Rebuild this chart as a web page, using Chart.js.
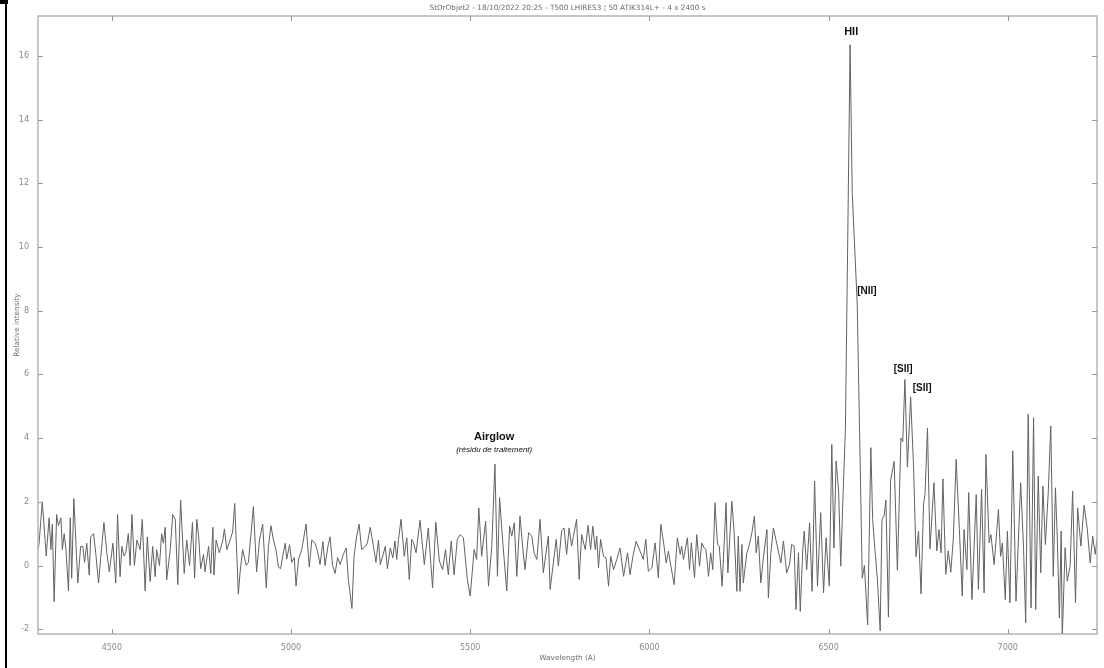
<!DOCTYPE html>
<html>
<head>
<meta charset="utf-8">
<script src="https://cdn.jsdelivr.net/npm/chart.js@4.4.1/dist/chart.umd.min.js"></script>
<style>
  html, body { margin: 0; padding: 0; background: #fff; }
  #wrap { position: relative; width: 1104px; height: 668px; }
  #edge { position: absolute; left: 5px; top: 0; width: 2px; height: 668px; background: #000; }
  #corner { position: absolute; left: 0; top: 0; width: 8px; height: 4px; background: #000; }
</style>
</head>
<body>
<div id="wrap">
  <canvas id="spectrum"></canvas>
  <div id="edge"></div>
  <div id="corner"></div>
</div>
<script>
const chartTitle = 'StDrObjet2 - 18/10/2022 20:25 - T500 LHIRES3 \u00A6 50 ATIK314L+ - 4 x 2400 s';
const xTitle = 'Wavelength (A)';
const yTitle = 'Relative intensity';

const xTickValues = [4500, 5000, 5500, 6000, 6500, 7000];
const yTickValues = [-2, 0, 2, 4, 6, 8, 10, 12, 14, 16];

// longueur d'onde (A)
const wavelengths = [
  4294, 4297, 4306, 4317, 4325, 4330, 4334, 4339, 4346, 4351, 4358, 4362, 4367, 4372, 4379, 4384, 4388, 4394,
  4405, 4413, 4419, 4424, 4430, 4437, 4441, 4449, 4455, 4463, 4469, 4478, 4486, 4493, 4503, 4511, 4516, 4523,
  4528, 4534, 4539, 4546, 4551, 4556, 4563, 4570, 4579, 4585, 4593, 4599, 4607, 4614, 4621, 4625, 4633, 4639,
  4644, 4649, 4653, 4663, 4670, 4677, 4684, 4692, 4702, 4709, 4717, 4725, 4731, 4737, 4742, 4748, 4756, 4760,
  4770, 4776, 4782, 4785, 4791, 4800, 4810, 4814, 4821, 4830, 4837, 4843, 4853, 4858, 4865, 4875, 4881, 4888,
  4895, 4904, 4912, 4921, 4931, 4937, 4944, 4951, 4958, 4965, 4971, 4977, 4984, 4988, 4996, 5002, 5009, 5014,
  5021, 5030, 5042, 5051, 5058, 5067, 5074, 5081, 5089, 5095, 5103, 5109, 5116, 5123, 5130, 5137, 5146, 5154,
  5160, 5170, 5176, 5183, 5190, 5197, 5207, 5213, 5221, 5230, 5237, 5244, 5249, 5256, 5263, 5269, 5277,
  5284, 5290, 5295, 5300, 5307, 5316, 5323, 5330, 5337, 5342, 5349, 5360, 5372, 5383, 5395, 5404, 5414, 5423,
  5431, 5439, 5447, 5455, 5464, 5472, 5481, 5492, 5500, 5511, 5518, 5524, 5532, 5543, 5551, 5560, 5569, 5576,
  5582, 5591, 5602, 5610, 5616, 5623, 5630, 5639, 5647, 5653, 5663, 5672, 5678, 5686, 5695, 5704, 5711, 5718,
  5723, 5732, 5740, 5746, 5755, 5762, 5769, 5776, 5783, 5788, 5797, 5804, 5811, 5821, 5829, 5836, 5842, 5849,
  5853, 5858, 5864, 5872, 5879, 5886, 5892, 5900, 5909, 5918, 5928, 5939, 5946, 5954, 5963, 5974, 5983, 5990,
  5997, 6007, 6016, 6025,
  6032, 6039, 6047, 6053, 6060, 6069, 6078, 6086, 6090, 6095, 6106, 6112, 6117, 6126, 6132, 6140, 6146, 6153,
  6158, 6165, 6171, 6177, 6183, 6190, 6195, 6203, 6214, 6219, 6230, 6236, 6244, 6248, 6253, 6258, 6262, 6272,
  6278, 6286, 6293, 6298, 6304, 6311, 6318, 6328, 6332, 6339, 6346, 6355, 6367, 6374, 6383, 6391, 6397, 6404,
  6409, 6416, 6421, 6428, 6432, 6439, 6447, 6454, 6461, 6469, 6478, 6486, 6493, 6502, 6509, 6515, 6521, 6528,
  6534, 6540, 6547, 6553, 6560, 6566, 6580, 6594,
  6600, 6609, 6618, 6623, 6630, 6636, 6644, 6649, 6655, 6660, 6667, 6673, 6683, 6692, 6702, 6707, 6713, 6720,
  6729, 6737, 6744, 6751, 6758, 6765, 6769, 6776, 6783, 6794, 6802, 6808, 6814, 6819, 6827, 6834, 6841, 6848,
  6856, 6865,
  6873, 6878, 6886, 6891, 6900, 6912, 6918, 6927, 6934, 6939, 6948, 6953, 6962, 6974, 6980, 6985, 6993, 6999,
  7006, 7014, 7023, 7036, 7044, 7050, 7057, 7065, 7072, 7078, 7085, 7092, 7098, 7105, 7113, 7120, 7127, 7133,
  7138, 7144, 7149, 7152, 7160, 7166, 7174, 7181, 7189, 7195, 7204, 7213, 7222, 7230, 7237, 7244, 7249
];

// intensite relative
const intensities = [
  0.5, 0.7, 2.0, 0.3, 1.5, 0.5, 1.3, -1.14, 1.6, 1.25, 1.5, 0.5, 1.0, 0.5, -0.8, 1.5, -0.4, 2.1,
  -0.55, 0.6, 0.6, 0.1, 0.7, -0.3, 0.9, 1.0, 0.4, -0.55, 0.25, 1.35, 0.4, -0.2, 0.7, -0.55, 1.6, -0.35,
  0.6, 0.3, 0.4, 1.0, 0.0, 1.6, 0.0, 0.8, 0.5, 1.45, -0.8, 0.9, -0.5, 0.6, -0.35, 0.5, 0.0, 1.0,
  0.7, 1.2, -0.45, 0.5, 1.6, 1.45, -0.6, 2.05, -0.25, 0.8, 0.0, 1.35, -0.4, 1.45, 0.95, -0.1, 0.35, -0.2,
  0.6, -0.25, 1.2, -0.3, 0.8, 0.4, 0.8, 1.15, 0.5, 0.8, 1.05, 1.95, -0.9, -0.2, 0.5, 0.0, 0.1, 0.95,
  1.85, -0.2, 0.8, 1.3, -0.7, 0.6, 1.25, 0.8, 0.5, -0.05, -0.1, 0.3, 0.7, 0.2, 0.65, 0.1, 0.25, -0.65,
  0.2, 0.5, 1.3, -0.05, 0.8, 0.7, 0.45, 0.03, 0.75, 0.0, 0.6, 0.9, 0.0, -0.25, 0.25, 0.03, 0.35, 0.55,
  -0.45, -1.35, 0.3, 0.9, 1.3, 0.5, 0.6, 0.7, 1.2, 0.6, 0.1, 0.8, 0.03, 0.3, 0.6, -0.1, 0.55,
  0.24, 0.77, 0.19, 0.82, 1.45, 0.29, 0.87, -0.44, 0.82, 0.71, 0.40, 1.42, 0.03, 1.18, -0.70, 1.36, 0.14, -0.13,
  0.50, -0.29, 0.77, -0.29, 0.82, 0.97, 0.87, -0.44, -0.96, 0.50, 0.19, 1.81, 0.29, 1.39, -0.65, 0.55, 3.18, -0.34,
  2.13, 0.71, -0.80, 1.24, 0.92, 1.34, -0.34, 1.55, 0.50, -0.13, 1.03, 0.92, 0.40, 0.19, 1.45, -0.23, 0.35, 0.92,
  -0.75, 0.08, 0.82, -0.02, 1.08, 1.18, 0.35, 1.18, 0.61, 0.92, 1.45, -0.44, 0.97, 0.50, 1.26, 0.50, 1.24, 0.50,
  0.92, -0.07, 0.82, 0.29, 0.24, -0.65, 0.29, -0.13, 0.19, 0.55, -0.34, 0.40, -0.29, 0.29, 0.76, 0.45, 0.19, 0.82,
  -0.18, -0.07, 0.71, -0.39,
  1.29, 0.77, 0.08, 0.45, -0.02, -0.60, 0.87, 0.35, 0.61, 0.19, 0.87, -0.13, 0.71, -0.39, 0.97, -0.02, 0.71, 0.55,
  0.50, -0.34, 0.40, -0.13, 1.97, 0.66, 0.61, -0.65, 1.97, -0.23, 2.02, 1.13, -0.81, 0.92, -0.81, 0.66, -0.55, 0.40,
  0.61, 1.03, 1.55, 0.40, 0.92, -0.55, 0.24, 1.13, -1.02, 0.40, 1.18, 0.71, 0.08, 0.77, -0.23, 0.03, 0.66, 0.61,
  -1.38, 0.40, -1.44, 0.50, 1.08, -0.13, 1.34, -0.81, 2.65, -0.65, 1.66, -0.86, 0.87, -0.65, 3.80, 0.55, 3.28, 2.34,
  -0.02, 2.08, 4.3, 9.8, 16.35, 11.7, 8.2, -0.4,
  0.0, -1.87, 3.7, 1.44, 0.4, -0.4, -2.05, 1.44, 1.56, 2.05, -1.62, 2.66, 3.27, -0.15, 4.0, 3.89, 5.84, 3.09,
  5.29, 3.15, 0.28, 1.07, -0.89, 1.93, 2.23, 4.31, 0.52, 2.6, 0.46, 1.13, 0.4, 2.72, -0.28, 0.46, -0.21, 0.83,
  3.33, 1.13,
  -0.96, 1.13, -0.13, 2.29, -1.07, 2.23, -0.75, 2.39, -0.86, 3.49, 0.71, 0.97, 0.03, 1.76, 0.29, 0.71, -1.07, 1.08,
  -1.17, 3.6, -1.12, 2.6, 0.56, -1.8, 4.75, -1.33, 4.64, -1.38, 2.81, -0.23, 2.49, 0.66, 2.29, 4.38, -0.34, 2.44,
  0.92, -1.65, 1.08, -2.3, 0.56, -0.49, -0.02, 2.34, -1.17, 1.81, 0.61, 1.89, 1.13, 0.08, 0.92, 0.35, 0.82
];

// raies identifiees (position en A / intensite)
const lineLabels = [
  { text: 'HII', x: 6563, y: 16.75, font: 'bold 11px "Liberation Sans", Arial, sans-serif', align: 'center' },
  { text: '[NII]', x: 6580, y: 8.6, font: 'bold 10px "Liberation Sans", Arial, sans-serif', align: 'left' },
  { text: '[SII]', x: 6708, y: 6.15, font: 'bold 10px "Liberation Sans", Arial, sans-serif', align: 'center' },
  { text: '[SII]', x: 6761, y: 5.58, font: 'bold 10px "Liberation Sans", Arial, sans-serif', align: 'center' },
  { text: 'Airglow', x: 5567, y: 4.04, font: 'bold 11px "Liberation Sans", Arial, sans-serif', align: 'center' },
  { text: '(r\u00e9sidu de traitement)', x: 5567, y: 3.64, font: 'italic 8px "Liberation Sans", Arial, sans-serif', align: 'center' }
];

const points = wavelengths.map((w, i) => ({ x: w, y: intensities[i] }));

const framePlugin = {
  id: 'frame',
  afterDraw(chart) {
    const { ctx, chartArea: a, scales: { x, y } } = chart;
    ctx.save();
    ctx.strokeStyle = '#b4b4b4';
    ctx.lineWidth = 1.5;
    ctx.strokeRect(a.left, a.top, a.right - a.left, a.bottom - a.top);

    // petits traits vers l'interieur
    ctx.lineWidth = 1;
    ctx.strokeStyle = '#999';
    ctx.beginPath();
    xTickValues.forEach(v => {
      const px = Math.round(x.getPixelForValue(v)) + 0.5;
      ctx.moveTo(px, a.bottom); ctx.lineTo(px, a.bottom - 5);
      ctx.moveTo(px, a.top); ctx.lineTo(px, a.top + 5);
    });
    yTickValues.forEach(v => {
      const py = Math.round(y.getPixelForValue(v)) + 0.5;
      ctx.moveTo(a.left, py); ctx.lineTo(a.left + 5, py);
      ctx.moveTo(a.right, py); ctx.lineTo(a.right - 5, py);
    });
    ctx.stroke();

    // titres
    ctx.fillStyle = '#6e6e6e';
    ctx.textAlign = 'center';
    ctx.textBaseline = 'middle';
    ctx.font = '7.3px "DejaVu Sans", sans-serif';
    ctx.fillText(chartTitle, (a.left + a.right) / 2, 8);
    ctx.fillText(xTitle, (a.left + a.right) / 2, 658);
    ctx.save();
    ctx.translate(17, (a.top + a.bottom) / 2);
    ctx.rotate(-Math.PI / 2);
    ctx.fillText(yTitle, 0, 0);
    ctx.restore();

    // etiquettes des raies
    ctx.fillStyle = '#111';
    lineLabels.forEach(l => {
      ctx.font = l.font;
      ctx.textAlign = l.align;
      ctx.fillText(l.text, x.getPixelForValue(l.x), y.getPixelForValue(l.y));
    });
    ctx.restore();
  }
};

const ctx = document.getElementById('spectrum');

new Chart(ctx, {
  type: 'line',
  data: {
    datasets: [{
      data: points,
      borderColor: '#626262',
      borderWidth: 1,
      pointRadius: 0,
      tension: 0,
      fill: false
    }]
  },
  options: {
    responsive: true,
    maintainAspectRatio: false,
    animation: false,
    layout: {
      padding: { top: 16, right: 7, left: 0, bottom: 0 }
    },
    scales: {
      x: {
        type: 'linear',
        min: 4294,
        max: 7249,
        grid: { display: false, drawTicks: false },
        border: { display: false },
        afterBuildTicks: s => { s.ticks = xTickValues.map(v => ({ value: v })); },
        afterFit: s => { s.height = 34; },
        ticks: {
          padding: 9,
          maxRotation: 0,
          color: '#888',
          font: { family: 'DejaVu Sans', size: 8 },
          callback: v => String(v)
        }
      },
      y: {
        min: -2.15,
        max: 17.25,
        grid: { display: false, drawTicks: false },
        border: { display: false },
        afterBuildTicks: s => { s.ticks = yTickValues.map(v => ({ value: v })); },
        afterFit: s => { s.width = 38; },
        ticks: {
          padding: 9,
          color: '#888',
          font: { family: 'DejaVu Sans', size: 8 },
          callback: v => String(v)
        }
      }
    },
    plugins: {
      legend: { display: false },
      tooltip: { enabled: false }
    }
  },
  plugins: [framePlugin]
});
</script>
</body>
</html>
